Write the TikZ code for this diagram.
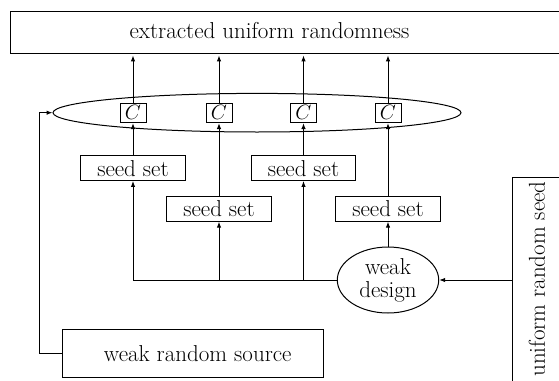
\documentclass[tikz,border=0pt]{standalone}
\usetikzlibrary{arrows.meta,shapes.geometric}
\begin{document}
\begin{tikzpicture}[x=1pt,y=-1pt,
  every node/.style={font=\fontsize{23}{26}\selectfont, inner sep=0pt},
  box/.style={draw, line width=1pt},
  seedbox/.style={box, minimum width=104.5pt, minimum height=24.5pt},
  cbox/.style={box, minimum width=26pt, minimum height=19.5pt},
  conn/.style={line width=1pt},
  arr/.style={conn, -{Latex[length=6pt,width=4.5pt]}}]
\useasboundingbox (0,0) rectangle (559,380);
% top output box
\node[box, anchor=west, minimum width=580pt, minimum height=41.6pt] (top) at (10,32.5) {};
\node (toplabel) at (269.5,31) {extracted uniform randomness};
% big ellipse
\node[draw, ellipse, conn, minimum width=408pt, minimum height=38.6pt] (big) at (257,112.7) {};
% C boxes
\node[cbox, fill=white, font=\fontsize{21}{24}\selectfont] (c1) at (133,112.8) {$C$};
\node[cbox, fill=white, font=\fontsize{21}{24}\selectfont] (c2) at (219,112.8) {$C$};
\node[cbox, fill=white, font=\fontsize{21}{24}\selectfont] (c3) at (303.5,112.8) {$C$};
\node[cbox, fill=white, font=\fontsize{21}{24}\selectfont] (c4) at (388,112.8) {$C$};
% seed sets
\node[seedbox] (s1) at (133,168.2) {seed set};
\node[seedbox] (s2) at (219,208.9) {seed set};
\node[seedbox] (s3) at (303.5,168.2) {seed set};
\node[seedbox] (s4) at (388,208.9) {seed set};
% weak design
\node[draw, ellipse, conn, minimum width=101.4pt, minimum height=66pt, align=center,
  font=\fontsize{23}{23}\selectfont] (wd) at (388,280) {weak\\design};
% uniform random seed box
\node[box, anchor=north west, minimum width=60pt, minimum height=220pt] (urs) at (512.3,176.7) {};
\node[rotate=90] (urslabel) at (537,279) {uniform random seed};
% weak random source
\node[box, minimum width=261pt, minimum height=48.3pt] (wrs) at (192.8,353.2) {\hspace*{10pt}weak random source};
% connectors: C to output
\foreach \i in {1,2,3,4}{
  \draw[arr] (c\i.north) -- ([yshift=-1.6pt]c\i.north |- top.south);
}
% seed sets to C
\foreach \i in {1,2,3,4}{
  \draw[arr] (s\i.north) -- (c\i.south);
}
% weak design to seed sets
\draw[arr] (wd.west) -| (s1.south);
\draw[arr] (s2.south |- wd.west) -- (s2.south);
\draw[arr] (s3.south |- wd.west) -- (s3.south);
\draw[arr] (wd.north) -- (s4.south);
% uniform random seed to weak design
\draw[arr] (urs.west |- wd.east) -- (wd.east);
% weak random source to big ellipse
\draw[arr] (wrs.west) -- ++(-22.3,0) |- (big.west);
\end{tikzpicture}
\end{document}
